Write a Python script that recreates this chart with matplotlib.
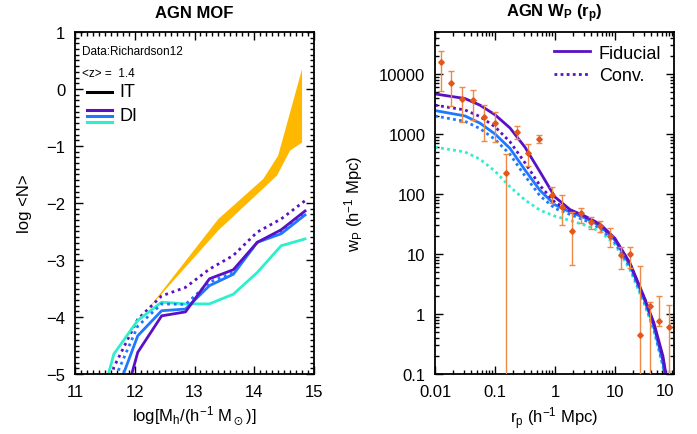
import numpy as np
import matplotlib
matplotlib.use("Agg")
import matplotlib.pyplot as plt
from matplotlib.ticker import MultipleLocator, LogLocator, NullFormatter, FixedLocator, FixedFormatter

plt.rcParams['font.family'] = ['Liberation Sans', 'DejaVu Sans']
plt.rcParams['mathtext.default'] = 'regular'

# ---------------- Left panel data (AGN MOF) ----------------
mh_nodes = [11.25, 11.65, 12.05, 12.45, 12.85, 13.25, 13.65, 14.05, 14.45, 14.85]
it_purple_solid = [-7.5, -6.14, -4.62, -3.98, -3.91, -3.33, -3.17, -2.69, -2.47, -2.14]
it_purple_dot   = [-7.0, -4.88, -4.04, -3.63, -3.48, -3.16, -2.92, -2.51, -2.28, -1.96]
di_blue_solid   = [-7.0, -5.45, -4.33, -3.89, -3.86, -3.45, -3.25, -2.69, -2.54, -2.21]
di_blue_dot     = [-7.0, -5.12, -4.16, -3.77, -3.78, -3.39, -3.22, -2.69, -2.51, -2.19]
di_cyan_solid   = [-6.2, -4.65, -4.06, -3.74, -3.77, -3.77, -3.60, -3.22, -2.75, -2.63]

band_x_up = [12.2, 13.4, 14.15, 14.40, 14.80]
band_y_up = [-3.89, -2.28, -1.58, -1.17, 0.35]
band_x_lo = [12.2, 13.4, 14.38, 14.60, 14.80]
band_y_lo = [-3.89, -2.48, -1.52, -1.08, -0.94]

# ---------------- Right panel data (AGN wp) ----------------
log_rp = [-2.0, -1.5, -1.25, -1.0, -0.75, -0.5, -0.25, 0.0, 0.25, 0.5, 0.75, 1.0, 1.25, 1.5, 1.65, 1.8, 1.85]
wp_fid       = [3.667, 3.59, 3.48, 3.32, 3.10, 2.78, 2.37, 1.95, 1.74, 1.63, 1.50, 1.26, 0.85, 0.25, -0.15, -0.70, -1.00]
wp_conv      = [3.48, 3.40, 3.29, 3.12, 2.87, 2.52, 2.14, 1.86, 1.72, 1.62, 1.49, 1.25, 0.84, 0.24, -0.18, -0.75, -1.05]
wp_blue      = [3.39, 3.30, 3.18, 3.00, 2.76, 2.40, 2.06, 1.82, 1.70, 1.60, 1.47, 1.23, 0.82, 0.22, -0.20, -0.78, -1.08]
wp_blue_conv = [3.30, 3.21, 3.09, 2.91, 2.66, 2.30, 1.97, 1.76, 1.66, 1.56, 1.43, 1.19, 0.78, 0.18, -0.25, -0.85, -1.10]
wp_cyan_conv = [2.78, 2.70, 2.58, 2.38, 2.12, 1.90, 1.73, 1.63, 1.56, 1.48, 1.38, 1.16, 0.74, 0.14, -0.28, -0.88, -1.12]

obs_logr  = [-1.905, -1.737, -1.553, -1.360, -1.181, -0.997, -0.824, -0.634, -0.450, -0.261,
             -0.049, 0.119, 0.286, 0.436, 0.604, 0.759, 0.926, 1.094, 1.249, 1.416, 1.584, 1.741, 1.896]
obs_logwp = [4.195, 3.850, 3.583, 3.567, 3.278, 3.178, 2.345, 3.028, 2.683, 2.917,
             1.983, 1.778, 1.388, 1.683, 1.528, 1.472, 1.295, 0.983, 0.995, -0.345, 0.138, -0.122, -0.222]
obs_loghi = [4.388, 4.045, 3.778, 3.738, 3.483, 3.362, 2.667, 3.128, 2.833, 2.983,
             2.112, 1.983, 1.695, 1.762, 1.612, 1.555, 1.428, 1.112, 1.112, 0.795, 0.205, 0.305, 0.150]
obs_loglo = [3.722, 3.472, 3.195, 3.238, 2.888, 2.872, -3.0, 2.917, 2.472, 2.850,
             1.850, 1.483, 0.817, 1.512, 1.417, 1.362, 1.112, 0.750, 0.762, -3.0, -3.0, -0.195, -3.0]

PURPLE = '#5A10C4'
BLUE = '#1F78FF'
CYAN = '#2EEFCB'
ORANGE = '#FFB800'
DATA_C = '#E2581A'
ERR_C = '#EE8A48'

fig = plt.figure(figsize=(6.97, 4.35), dpi=100)
ax1 = fig.add_axes([75/697, 60/435, 239/697, 342/435])
ax2 = fig.add_axes([435/697, 60/435, 239/697, 342/435])

lw = 2.0
# Left panel
ax1.fill(band_x_up + band_x_lo[::-1], band_y_up + band_y_lo[::-1], color=ORANGE, lw=0)
ax1.plot(mh_nodes, it_purple_dot, color=PURPLE, lw=lw, ls=(0, (1, 1.4)))
ax1.plot(mh_nodes, di_cyan_solid, color=CYAN, lw=lw)
ax1.plot(mh_nodes, di_blue_solid, color=BLUE, lw=lw)
ax1.plot(mh_nodes, di_blue_dot, color=BLUE, lw=lw, ls=(0, (1, 1.4)))
ax1.plot(mh_nodes, it_purple_solid, color=PURPLE, lw=lw)
ax1.set_xlim(11, 15)
ax1.set_ylim(-5, 1)
ax1.xaxis.set_major_locator(MultipleLocator(1))
ax1.xaxis.set_minor_locator(MultipleLocator(0.1))
ax1.yaxis.set_major_locator(MultipleLocator(1))
ax1.yaxis.set_minor_locator(MultipleLocator(0.1))
ax1.set_yticks([-5, -4, -3, -2, -1, 0, 1])
ax1.set_yticklabels(['\u22125', '\u22124', '\u22123', '\u22122', '\u22121', '0', '1'])
ax1.set_title('AGN MOF', fontsize=12, fontweight='bold', pad=11)
ax1.set_xlabel(r'log[M$_h$/(h$^{-1}$ M$_\odot$)]', fontsize=12)
ax1.set_ylabel('log <N>', fontsize=12, labelpad=10)

ax1.text(0.03, 0.945, 'Data:Richardson12', transform=ax1.transAxes, fontsize=8.5, va='center')
ax1.text(0.03, 0.88, '<z> =  1.4', transform=ax1.transAxes, fontsize=8.5, va='center')
ax1.plot([0.05, 0.155], [0.825, 0.825], transform=ax1.transAxes, color='black', lw=2.2)
ax1.text(0.185, 0.825, 'IT', transform=ax1.transAxes, fontsize=13, va='center')
for yy, c in zip([0.772, 0.755, 0.738], [PURPLE, BLUE, CYAN]):
    ax1.plot([0.05, 0.155], [yy, yy], transform=ax1.transAxes, color=c, lw=2.2)
ax1.text(0.185, 0.755, 'DI', transform=ax1.transAxes, fontsize=13, va='center')

# Right panel
rp = 10 ** np.array(log_rp)
ax2.plot(rp, 10 ** np.array(wp_cyan_conv), color=CYAN, lw=lw, ls=(0, (1, 1.2)))
ax2.plot(rp, 10 ** np.array(wp_blue_conv), color=BLUE, lw=lw, ls=(0, (1, 1.2)))
ax2.plot(rp, 10 ** np.array(wp_blue), color=BLUE, lw=lw)
ax2.plot(rp, 10 ** np.array(wp_conv), color=PURPLE, lw=lw, ls=(0, (1, 1.2)), label='Conv.')
ax2.plot(rp, 10 ** np.array(wp_fid), color=PURPLE, lw=lw, label='Fiducial')

ox = 10 ** np.array(obs_logr)
oy = 10 ** np.array(obs_logwp)
ohi = 10 ** np.array(obs_loghi)
olo = 10 ** np.array(obs_loglo)
ax2.errorbar(ox, oy, yerr=[oy - olo, ohi - oy], fmt='D', ms=2.8, color=DATA_C,
             ecolor=ERR_C, elinewidth=1.0, capsize=2.5, capthick=1.0, zorder=5)

ax2.set_xscale('log')
ax2.set_yscale('log')
ax2.set_xlim(0.01, 10 ** 1.985)
ax2.set_ylim(0.1, 5e4)
ax2.xaxis.set_major_locator(FixedLocator([0.01, 0.1, 1, 10]))
ax2.xaxis.set_major_formatter(FixedFormatter(['0.01', '0.1', '1', '10']))
ax2.xaxis.set_minor_locator(LogLocator(base=10, subs=np.arange(2, 10)))
ax2.xaxis.set_minor_formatter(NullFormatter())
ax2.yaxis.set_major_locator(FixedLocator([0.1, 1, 10, 100, 1000, 10000]))
ax2.yaxis.set_major_formatter(FixedFormatter(['0.1', '1', '10', '100', '1000', '10000']))
ax2.yaxis.set_minor_locator(LogLocator(base=10, subs=np.arange(2, 10)))
ax2.yaxis.set_minor_formatter(NullFormatter())
ax2.text(0.962, -0.026, '10', transform=ax2.transAxes, ha='center', va='top', fontsize=12)
ax2.set_title(r'AGN W$_P$ (r$_p$)', fontsize=12, fontweight='bold', pad=11)
ax2.set_xlabel(r'r$_p$ (h$^{-1}$ Mpc)', fontsize=12)
ax2.set_ylabel(r'w$_P$ (h$^{-1}$ Mpc)', fontsize=12, labelpad=10)
h, l = ax2.get_legend_handles_labels()
ax2.legend(h[::-1], l[::-1], loc='upper right', frameon=False, fontsize=13,
           handlelength=2.0, borderaxespad=0.3, labelspacing=0.3, handletextpad=0.5)

for ax in (ax1, ax2):
    ax.tick_params(which='both', direction='in', top=True, right=True, labelsize=12, width=1.0)
    ax.tick_params(which='major', length=6, pad=7)
    ax.tick_params(which='minor', length=3)
    for s in ax.spines.values():
        s.set_linewidth(1.3)

fig.savefig('out.png', dpi=100)
